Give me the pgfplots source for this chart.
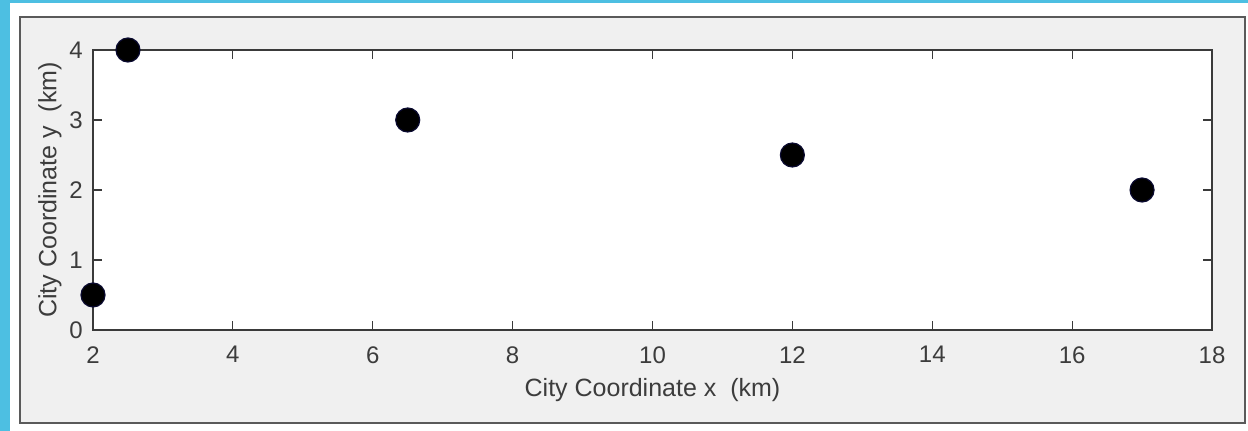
\documentclass[border=0pt]{standalone}
\usepackage{pgfplots}
\pgfplotsset{compat=1.18}
\usepackage{fontspec}
\setmainfont{Liberation Sans}
\definecolor{bandblue}{HTML}{4DBFE2}
\definecolor{figgray}{HTML}{F0F0F0}
\definecolor{framegray}{HTML}{5A5A5A}
\definecolor{axgray}{HTML}{3A3A3A}
\definecolor{txtgray}{HTML}{3C3C3C}
\definecolor{markedge}{HTML}{0A0A30}
\begin{document}
\begin{tikzpicture}[x=0.5pt,y=0.5pt]
\useasboundingbox (0,0) rectangle (1248,431);
\fill[white] (0,0) rectangle (1248,431);
\fill[bandblue] (0,0) rectangle (10,431);
\fill[bandblue] (0,428) rectangle (1248,431);
\filldraw[fill=figgray,draw=framegray,line width=1pt] (20,8) rectangle (1245,414);
\begin{axis}[
  at={(46.5pt,50.5pt)}, anchor=south west,
  scale only axis, width=559.5pt, height=140pt,
  xmin=2, xmax=18, ymin=0, ymax=4,
  xtick={2,4,...,18}, ytick={0,1,2,3,4},
  tick align=inside, tick pos=both,
  major tick length=4.5pt,
  axis line style={axgray, line width=0.7pt},
  every tick/.style={axgray, line width=0.6pt},
  axis background/.style={fill=white},
  /pgf/number format/assume math mode=true,
  tick label style={font=\fontsize{12}{14}\selectfont, text=txtgray},
  xticklabel style={anchor=north, inner sep=0pt, yshift=-8pt},
  yticklabel style={anchor=east, inner sep=0pt, xshift=-5pt},
  label style={font=\fontsize{12.5}{15}\selectfont, text=txtgray},
  xlabel={City Coordinate x\ \ (km)},
  ylabel={City Coordinate y\ \ (km)},
  xlabel style={at={(axis description cs:0.5,0)}, anchor=base, inner sep=0pt, yshift=-33.5pt},
  ylabel style={at={(axis description cs:-0.0384,0.5)}, anchor=center, inner sep=0pt},
  clip marker paths=false, clip=false,
]
\addplot[only marks, mark=*, mark size=6pt, mark options={fill=black, draw=markedge, line width=0.6pt}]
coordinates {(2,0.5) (2.5,4) (6.5,3) (12,2.5) (17,2)};
\end{axis}
\end{tikzpicture}
\end{document}
